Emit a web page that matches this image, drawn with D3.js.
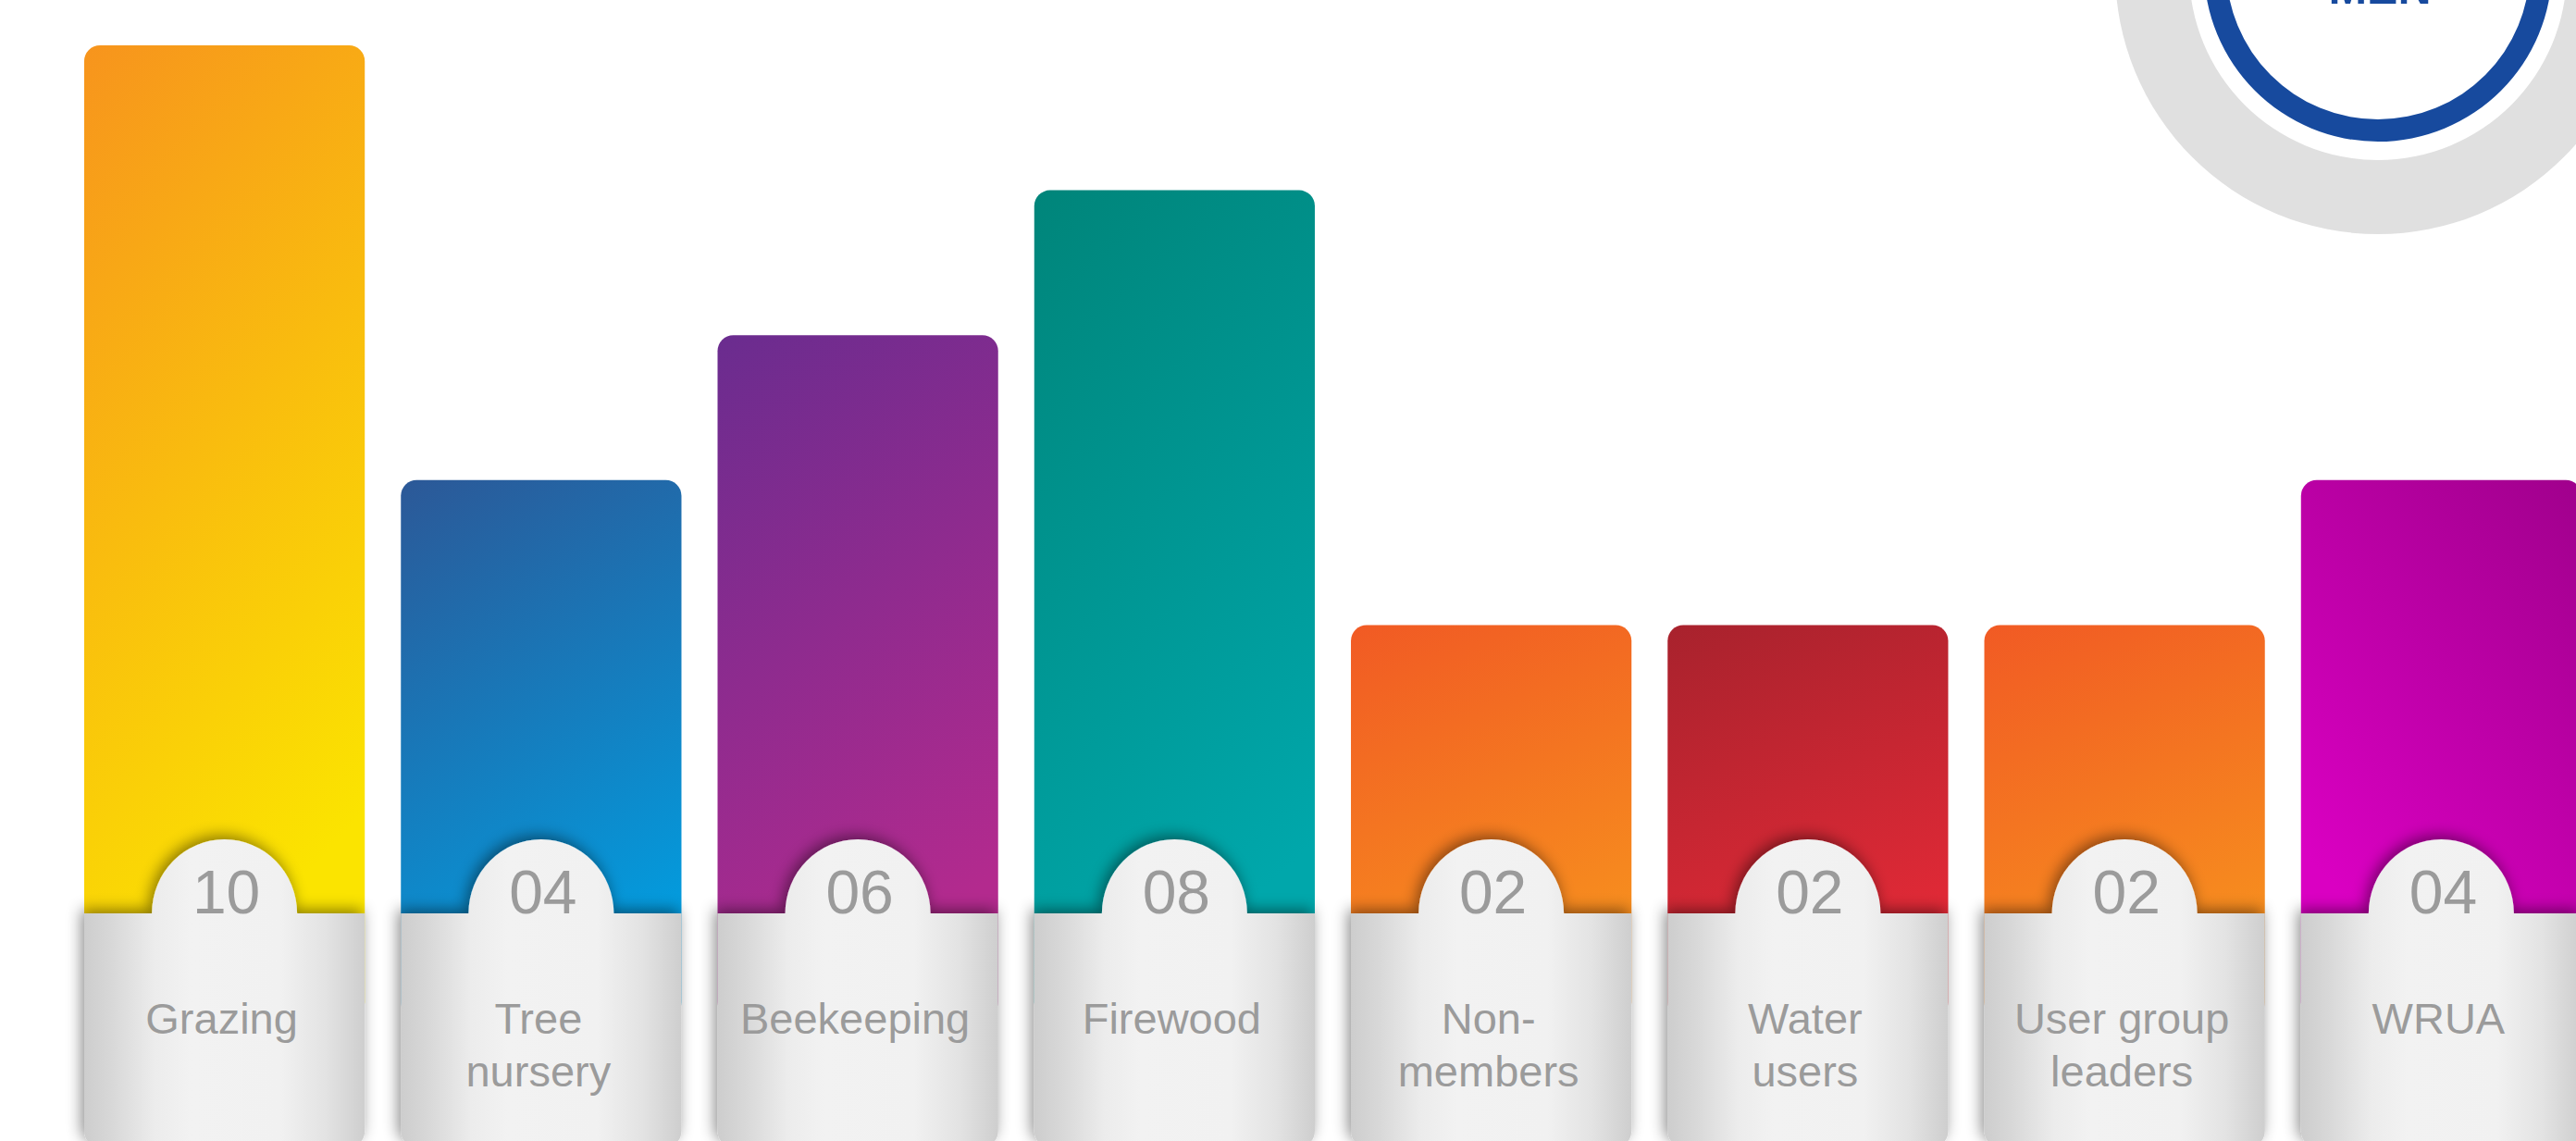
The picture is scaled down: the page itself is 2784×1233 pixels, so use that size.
<!DOCTYPE html>
<html>
<head>
<meta charset="utf-8">
<script src="https://cdn.jsdelivr.net/npm/d3@7"></script>
<style>
  html, body { margin: 0; padding: 0; background: #ffffff; overflow: hidden; }
  svg { display: block; }
</style>
</head>
<body>
<svg id="chart" width="2784" height="1233"></svg>
<script>
// ---- data ----
const categories = ["Grazing", "Tree nursery", "Beekeeping", "Firewood", "Non-members", "Water users", "User group leaders", "WRUA"];
const labelLines = [["Grazing"], ["Tree", "nursery"], ["Beekeeping"], ["Firewood"], ["Non-", "members"], ["Water", "users"], ["User group", "leaders"], ["WRUA"]];
const values = [10, 4, 6, 8, 2, 2, 2, 4];
const colorsTop = ["#F7941D", "#2C5897", "#6A2C8F", "#00857A", "#F15A24", "#A8222D", "#F15A24", "#A0008C"];
const colorsBottom = ["#FBE400", "#039BDD", "#B32A8E", "#00A7AB", "#F7901E", "#E52A37", "#F7901E", "#DA00C2"];
const gradientFlip = [false, false, false, false, false, false, false, true];
const badgeTitle = "MEN";

// ---- layout ----
const svg = d3.select("#chart");
const defs = svg.append("defs");

const x = d3.scaleBand()
  .domain(categories)
  .range([91, 2790])
  .paddingInner(39 / 342)
  .paddingOuter(0);

const y = d3.scaleLinear().domain([0, 10]).range([832, 49]);

const bandTop = 987, bandBottom = 1238, domeRx = 78.5, domeRy = 80, corner = 17;
const fmt = d3.format("02");

// shadow filter
const f = defs.append("filter").attr("id", "shadow")
  .attr("x", "-20%").attr("y", "-40%").attr("width", "140%").attr("height", "170%");
f.append("feDropShadow").attr("dx", -3).attr("dy", -4).attr("stdDeviation", 8)
  .attr("flood-color", "#000").attr("flood-opacity", 0.45);

// band gradient
const bg = defs.append("linearGradient").attr("id", "bandGrad")
  .attr("x1", 0).attr("y1", 0).attr("x2", 1).attr("y2", 0);
[[0, "#cdcdcd"], [0.1, "#d8d8d8"], [0.25, "#ececec"], [0.38, "#f2f2f2"], [0.7, "#f1f1f1"], [0.86, "#e3e3e3"], [1, "#cecece"]]
  .forEach(([o, c]) => bg.append("stop").attr("offset", o).attr("stop-color", c));

// bar gradients
categories.forEach((c, i) => {
  const g = defs.append("linearGradient").attr("id", "barGrad" + i);
  if (gradientFlip[i]) g.attr("x1", 1).attr("y1", 0).attr("x2", 0.45).attr("y2", 0.95);
  else g.attr("x1", 0).attr("y1", 0).attr("x2", 0.3).attr("y2", 1);
  g.append("stop").attr("offset", 0).attr("stop-color", colorsTop[i]);
  g.append("stop").attr("offset", 1).attr("stop-color", colorsBottom[i]);
});

// ---- badge (top right) ----
const badge = svg.append("g");
badge.append("path")
  .attr("d", d3.arc()({ innerRadius: 204, outerRadius: 284, startAngle: 0, endAngle: 2 * Math.PI }))
  .attr("transform", "translate(2570,-31)")
  .attr("fill", "#e0e0e0");
badge.append("path")
  .attr("d", d3.arc()({ innerRadius: 164, outerRadius: 188, startAngle: 0, endAngle: 2 * Math.PI }))
  .attr("transform", "translate(2570,-35)")
  .attr("fill", "#174A9E");
badge.append("text")
  .attr("x", 2572).attr("y", 4)
  .attr("text-anchor", "middle")
  .attr("font-family", "'Liberation Sans', Arial, sans-serif")
  .attr("font-weight", "bold")
  .attr("font-size", 50)
  .attr("fill", "#174A9E")
  .text(badgeTitle);

// ---- bars ----
const groups = svg.selectAll("g.bar").data(categories).join("g").attr("class", "bar");

groups.append("rect")
  .attr("x", d => x(d))
  .attr("y", (d, i) => y(values[i]))
  .attr("width", x.bandwidth())
  .attr("height", (d, i) => 1100 - y(values[i]))
  .attr("rx", corner).attr("ry", corner)
  .attr("fill", (d, i) => `url(#barGrad${i})`);

function bandPath(d) {
  const L = x(d), R = x(d) + x.bandwidth(), cx = L + x.bandwidth() / 2;
  return `M${L},${bandTop} H${cx - domeRx} A${domeRx} ${domeRy} 0 0 1 ${cx + domeRx},${bandTop} H${R} ` +
    `V${bandBottom - corner} Q${R},${bandBottom} ${R - corner},${bandBottom} H${L + corner} ` +
    `Q${L},${bandBottom} ${L},${bandBottom - corner} Z`;
}

groups.append("path")
  .attr("d", bandPath)
  .attr("fill", "url(#bandGrad)")
  .attr("filter", "url(#shadow)");

groups.append("text")
  .attr("x", d => x(d) + x.bandwidth() / 2 + 2)
  .attr("y", bandTop)
  .attr("text-anchor", "middle")
  .attr("font-family", "'Liberation Sans', Arial, sans-serif")
  .attr("font-size", 66)
  .attr("fill", "#9b9b9b")
  .text((d, i) => fmt(values[i]));

groups.each(function (d, i) {
  const t = d3.select(this).append("text")
    .attr("text-anchor", "middle")
    .attr("font-family", "'Liberation Sans', Arial, sans-serif")
    .attr("font-size", 47)
    .attr("fill", "#9b9b9b");
  labelLines[i].forEach((line, k) => {
    t.append("tspan")
      .attr("x", x(d) + x.bandwidth() / 2 - 3)
      .attr("y", 1117 + k * 57)
      .text(line);
  });
});
</script>
</body>
</html>
